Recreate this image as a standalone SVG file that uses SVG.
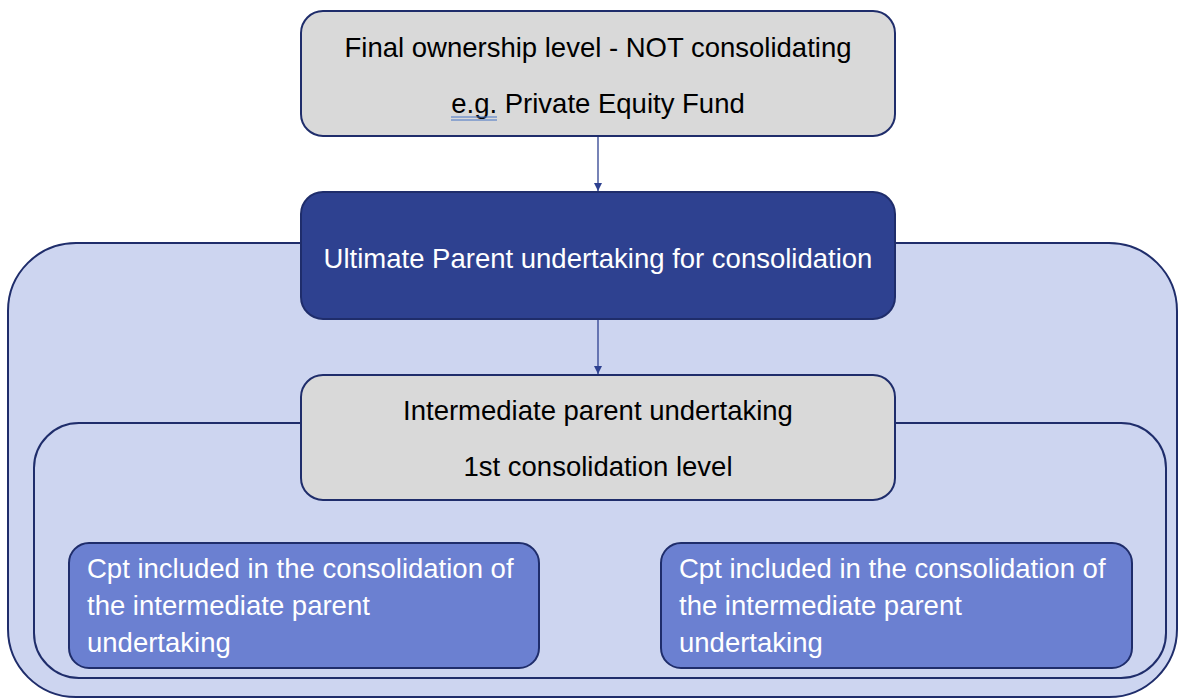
<svg xmlns="http://www.w3.org/2000/svg" width="1179" height="699" viewBox="0 0 1179 699">
<style>
text{font-family:"Liberation Sans",Arial,sans-serif;font-size:27.5px}
.dk{fill:#000}
.wh{fill:#fff}
.grey{fill:#D9D9D9;stroke:#1F2D6B;stroke-width:2}
.navy{fill:#2E4190;stroke:#1F2D6B;stroke-width:2}
.cpt{fill:#6B80D1;stroke:#1F2D6B;stroke-width:2}
.cont{fill:#CDD5F0;stroke:#1F2D6B;stroke-width:2}
.conn{stroke:#2E4190;stroke-width:1.3;fill:none}
</style>
<defs>
<marker id="ah" markerWidth="10" markerHeight="10" refX="8" refY="4" orient="auto" markerUnits="userSpaceOnUse">
<path d="M0,0 L8,4 L0,8 Z" fill="#2E4190"/>
</marker>
</defs>
<rect width="1179" height="699" fill="#fff"/>
<g id="outer-container"><rect class="cont" x="8" y="243" width="1169" height="454" rx="68"/></g>
<g id="inner-container"><rect class="cont" x="34" y="423" width="1132" height="255" rx="45"/></g>
<g id="connectors">
<line class="conn" x1="598" y1="137" x2="598" y2="191" marker-end="url(#ah)"/>
<line class="conn" x1="598" y1="320" x2="598" y2="374" marker-end="url(#ah)"/>
</g>
<g id="final-owner">
<rect class="grey" x="301" y="11" width="594" height="125" rx="22"/>
<text class="dk" x="598" y="57" text-anchor="middle">Final ownership level - NOT consolidating</text>
<text class="dk" x="598" y="113" text-anchor="middle">e.g. Private Equity Fund</text>
<line x1="451" y1="117" x2="497" y2="117" stroke="#4472C4" stroke-width="1"/>
<line x1="451" y1="120" x2="497" y2="120" stroke="#4472C4" stroke-width="1"/>
</g>
<g id="ultimate-parent">
<rect class="navy" x="301" y="192" width="594" height="127" rx="22"/>
<text class="wh" x="598" y="268" text-anchor="middle">Ultimate Parent undertaking for consolidation</text>
</g>
<g id="intermediate-parent">
<rect class="grey" x="301" y="375" width="594" height="125" rx="22"/>
<text class="dk" x="598" y="420" text-anchor="middle">Intermediate parent undertaking</text>
<text class="dk" x="598" y="476" text-anchor="middle">1st consolidation level</text>
</g>
<g id="cpt-left">
<rect class="cpt" x="69" y="543" width="470" height="125" rx="20"/>
<text class="wh" x="87" y="578">Cpt included in the consolidation of</text>
<text class="wh" x="87" y="615">the intermediate parent</text>
<text class="wh" x="87" y="652">undertaking</text>
</g>
<g id="cpt-right">
<rect class="cpt" x="661" y="543" width="471" height="125" rx="20"/>
<text class="wh" x="679" y="578">Cpt included in the consolidation of</text>
<text class="wh" x="679" y="615">the intermediate parent</text>
<text class="wh" x="679" y="652">undertaking</text>
</g>
</svg>
